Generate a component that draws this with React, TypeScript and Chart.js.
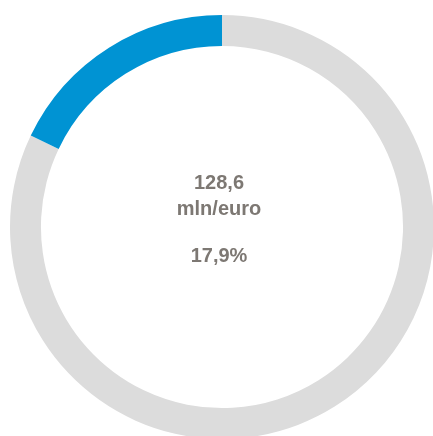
import React, { useEffect, useRef } from "react";
import { Chart, registerables } from "chart.js";

Chart.register(...registerables);

const categories = ["Resto", "Quota"];
const values = [82.1, 17.9];
const colors = ["#dcdcdc", "#0093d3"];
const centerLines = ["128,6", "mln/euro", "", "17,9%"];

const centerTextPlugin = {
  id: "centerText",
  afterDraw(chart: any) {
    const { ctx, chartArea } = chart;
    const cx = (chartArea.left + chartArea.right) / 2 - 3;
    const cy = (chartArea.top + chartArea.bottom) / 2;
    ctx.save();
    ctx.fillStyle = "#7d7873";
    ctx.font = "bold 20px 'Liberation Sans', Arial, sans-serif";
    ctx.textAlign = "center";
    ctx.textBaseline = "alphabetic";
    const offsets = [-38, -12, 0, 35];
    centerLines.forEach((t, i) => {
      if (t) ctx.fillText(t, cx, cy + offsets[i]);
    });
    ctx.restore();
  },
};

export default function App() {
  const ref = useRef<HTMLCanvasElement | null>(null);
  useEffect(() => {
    if (!ref.current) return;
    const chart = new Chart(ref.current, {
      type: "doughnut",
      data: {
        labels: categories,
        datasets: [
          {
            data: values,
            backgroundColor: colors,
            borderWidth: 0,
            hoverOffset: 0,
          },
        ],
      },
      options: {
        animation: false,
        responsive: false,
        cutout: "85.4%",
        layout: { padding: 0 },
        plugins: {
          legend: { display: false },
          tooltip: { enabled: false },
        },
      },
      plugins: [centerTextPlugin],
    });
    return () => chart.destroy();
  }, []);

  return (
    <div
      style={{
        position: "fixed",
        left: 0,
        top: 0,
        width: 433,
        height: 436,
        overflow: "hidden",
        background: "#ffffff",
      }}
    >
      <canvas
        ref={ref}
        width={424}
        height={424}
        style={{ position: "absolute", left: 10, top: 15, width: 424, height: 424 }}
      />
    </div>
  );
}
